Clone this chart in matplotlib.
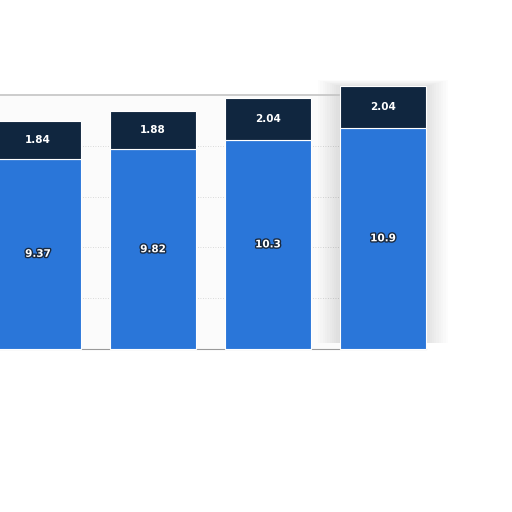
import matplotlib
matplotlib.use("Agg")
import matplotlib.pyplot as plt
import matplotlib.patheffects as pe
from matplotlib.patches import Rectangle

# values (first bar is cut by the left edge)
categories = ["A", "B", "C", "D"]
base_vals = [9.37, 9.82, 10.3, 10.9]
top_vals = [1.84, 1.88, 2.04, 2.04]

blue = "#2a76d9"
navy = "#10263f"
width = 0.75

fig = plt.figure(figsize=(5.12, 5.12), dpi=100)
ax = fig.add_axes([0.0, 163 / 512, 426 / 512, 254 / 512])
ax.set_facecolor("#fbfbfb")

x = list(range(len(categories)))

# soft shadow around the last (popped-out) bar
for k in range(10):
    pad = 0.01 + k * 0.02
    ax.add_patch(Rectangle((x[-1] - width / 2 - pad, 0.3), width + 2 * pad,
                           base_vals[-1] + top_vals[-1] - 0.3 + pad * 1.5,
                           color="black", alpha=0.012, lw=0, zorder=2, clip_on=False))

ax.bar(x, base_vals, width=width, color=blue, edgecolor="white", linewidth=0.8,
       zorder=3, clip_on=False)
ax.bar(x, top_vals, bottom=base_vals, width=width, color=navy, edgecolor="white",
       linewidth=0.8, zorder=3, clip_on=False)

stroke = [pe.withStroke(linewidth=2, foreground="#1a2a40")]
for i in x:
    ax.text(i, base_vals[i] / 2, f"{base_vals[i]:g}", ha="center", va="center",
            color="white", fontsize=7.5, fontweight="bold", path_effects=stroke,
            zorder=5, clip_on=False)
    ax.text(i, base_vals[i] + top_vals[i] / 2, f"{top_vals[i]:g}", ha="center",
            va="center", color="white", fontsize=7.5, fontweight="bold", zorder=5,
            clip_on=False)

ax.set_xlim(-38 / 115, 388 / 115)
ax.set_ylim(0, 12.5)
ax.set_yticks([2.5, 5, 7.5, 10])
ax.grid(axis="y", linestyle=(0, (1, 2)), color="#cfcfcf", linewidth=0.6, zorder=1)
ax.set_axisbelow(True)
ax.tick_params(left=False, bottom=False, labelleft=False, labelbottom=False)
for s in ["left", "right"]:
    ax.spines[s].set_visible(False)
ax.spines["top"].set_color("#c4c4c4")
ax.spines["top"].set_linewidth(1.2)
ax.spines["bottom"].set_color("#9a9a9a")
ax.spines["bottom"].set_linewidth(0.8)

fig.savefig("out.png", dpi=100)
